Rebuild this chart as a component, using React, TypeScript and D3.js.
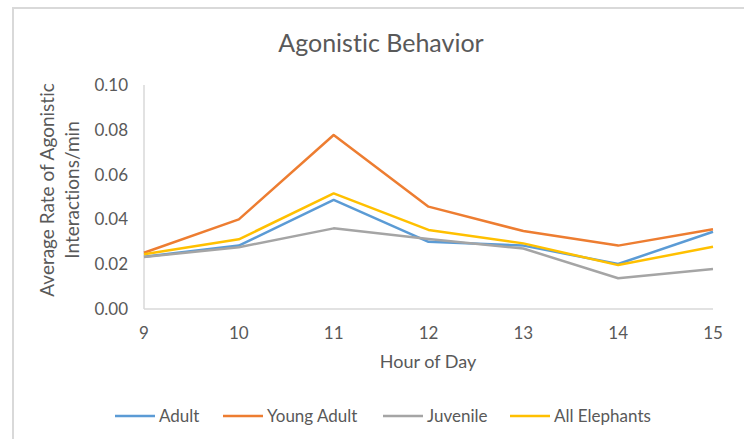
import React from "react";
import * as d3 from "d3";

const hours = [9, 10, 11, 12, 13, 14, 15];
const seriesNames = ["Adult", "Young Adult", "Juvenile", "All Elephants"];
const adult = [0.0233, 0.0283, 0.0487, 0.030, 0.0283, 0.0201, 0.0345];
const youngAdult = [0.0251, 0.040, 0.0777, 0.0457, 0.0348, 0.0283, 0.0356];
const juvenile = [0.0232, 0.0276, 0.036, 0.0312, 0.027, 0.0137, 0.0179];
const allElephants = [0.0244, 0.0311, 0.0516, 0.0353, 0.0293, 0.0196, 0.0278];
const yTicks = [0, 0.02, 0.04, 0.06, 0.08, 0.1];
const colors = ["#5B9BD5", "#ED7D31", "#A5A5A5", "#FFC000"];
const title = "Agonistic Behavior";
const xTitle = "Hour of Day";
const yTitle = ["Average Rate of Agonistic", "Interactions/min"];

const W = 744;
const H = 439;
const FONT = "Lato, 'Open Sans', sans-serif";
const TXT = "#595959";

export default function App() {
  const x = d3.scaleLinear().domain([9, 15]).range([144, 713]);
  const y = d3.scaleLinear().domain([0, 0.1]).range([309, 85]);
  const allSeries = [adult, youngAdult, juvenile, allElephants];
  const line = d3
    .line<number>()
    .x((_, i) => x(hours[i]))
    .y((d) => y(d));

  const legendX = [115, 223, 383, 510];

  return (
    <svg
      width={W}
      height={H}
      style={{
        position: "absolute",
        left: 0,
        top: 0,
        background: "#fff",
        fontVariantLigatures: "none",
      }}
      fontFamily={FONT}
    >
      <rect x={13} y={8} width={W} height={H} fill="#fff" stroke="#d9d9d9" strokeWidth={2} />
      <text x={381} y={52} textAnchor="middle" fontSize={25} fill={TXT}>
        {title}
      </text>
      {/* axes */}
      <line x1={x(9)} x2={x(9)} y1={y(0.1)} y2={y(0)} stroke="#d9d9d9" strokeWidth={1.5} />
      <line x1={x(9)} x2={x(15)} y1={y(0)} y2={y(0)} stroke="#d9d9d9" strokeWidth={1.5} />
      {yTicks.map((t) => (
        <text key={t} x={128} y={y(t)} dy="0.35em" textAnchor="end" fontSize={17} fill={TXT}>
          {d3.format(".2f")(t)}
        </text>
      ))}
      {hours.map((h) => (
        <text key={h} x={x(h)} y={333} dy="0.35em" textAnchor="middle" fontSize={17} fill={TXT}>
          {h}
        </text>
      ))}
      <text x={428} y={362} dy="0.35em" textAnchor="middle" fontSize={18} fill={TXT}>
        {xTitle}
      </text>
      {yTitle.map((t, i) => (
        <text
          key={i}
          transform={`translate(${47.5 + i * 24.5},190) rotate(-90)`}
          dy="0.35em"
          textAnchor="middle"
          fontSize={19}
          fill={TXT}
        >
          {t}
        </text>
      ))}
      {allSeries.map((s, i) => (
        <path
          key={i}
          d={line(s) || ""}
          fill="none"
          stroke={colors[i]}
          strokeWidth={2.5}
          strokeLinejoin="round"
        />
      ))}
      {seriesNames.map((n, i) => (
        <g key={n}>
          <line
            x1={legendX[i]}
            x2={legendX[i] + 40}
            y1={416}
            y2={416}
            stroke={colors[i]}
            strokeWidth={2.5}
          />
          <text x={legendX[i] + 44} y={416} dy="0.35em" fontSize={17} fill={TXT}>
            {n}
          </text>
        </g>
      ))}
    </svg>
  );
}
